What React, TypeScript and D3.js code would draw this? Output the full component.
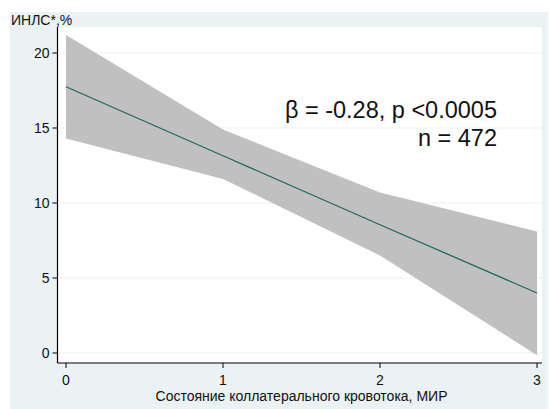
import React from "react";
import * as d3 from "d3";

const xValues = [0, 1, 2, 3];
const fitValues = [17.75, 13.15, 8.55, 4.0];
const upperCI = [21.2, 14.9, 10.7, 8.1];
const lowerCI = [14.3, 11.6, 6.5, -0.15];
const xTicks = [0, 1, 2, 3];
const yTicks = [0, 5, 10, 15, 20];
const yTickLabels = ["0", "5", "10", "15", "20"];
const yTitle = "ИНЛС*,%";
const xTitle = "Состояние коллатерального кровотока, МИР";
const annot1 = "β = -0.28, p <0.0005";
const annot2 = "n = 472";

export default function App() {
  const W = 549, H = 409;
  const plotL = 57.5, plotR = 542, plotT = 27, plotB = 363;
  const x = d3.scaleLinear().domain([0, 3]).range([66, 537]);
  const y = d3.scaleLinear().domain([0, 20]).range([353, 53]);
  const rows = xValues.map((v, i) => ({ x: v, f: fitValues[i], lo: lowerCI[i], hi: upperCI[i] }));
  const area = d3.area<any>().x(d => x(d.x)).y0(d => y(d.lo)).y1(d => y(d.hi));
  const line = d3.line<any>().x(d => x(d.x)).y(d => y(d.f));
  const font = "'Liberation Sans', Arial, sans-serif";
  return (
    <svg width={W} height={H} style={{ position: "absolute", left: 0, top: 0 }} fontFamily={font}>
      <rect x={0} y={0} width={W} height={H} fill="#ffffff" />
      <rect x={10} y={12} width={538} height={H - 12} fill="#eaf2f3" />
      <rect x={plotL} y={plotT} width={plotR - plotL} height={plotB - plotT} fill="#ffffff" />
      {yTicks.map(t => (
        <line key={"g" + t} x1={plotL} x2={plotR} y1={y(t)} y2={y(t)} stroke="#eaf2f3" strokeWidth={1.2} />
      ))}
      <path d={area(rows) || ""} fill="#c0c0c0" />
      <path d={line(rows) || ""} fill="none" stroke="#1a6b5c" strokeWidth={1.3} />
      <line x1={plotL} x2={plotL} y1={plotT} y2={plotB} stroke="#000" strokeWidth={1.2} />
      <line x1={plotL} x2={plotR} y1={plotB} y2={plotB} stroke="#000" strokeWidth={1.2} />
      {yTicks.map((t, i) => (
        <g key={"y" + t}>
          <line x1={plotL - 5} x2={plotL} y1={y(t)} y2={y(t)} stroke="#000" strokeWidth={1} />
          <text x={49.5} y={y(t)} dy="0.36em" textAnchor="end" fontSize={14} fill="#111">{yTickLabels[i]}</text>
        </g>
      ))}
      {xTicks.map(t => (
        <g key={"x" + t}>
          <line x1={x(t)} x2={x(t)} y1={plotB} y2={plotB + 5} stroke="#000" strokeWidth={1} />
          <text x={x(t)} y={384.5} textAnchor="middle" fontSize={14} fill="#111">{t}</text>
        </g>
      ))}
      <text x={11} y={24.5} fontSize={14} fill="#111">{yTitle}</text>
      <text x={(x(0) + x(3)) / 2} y={401} textAnchor="middle" fontSize={14} fill="#111">{xTitle}</text>
      <text x={497} y={118} textAnchor="end" fontSize={23.5} fill="#111">{annot1}</text>
      <text x={497} y={146} textAnchor="end" fontSize={23.5} fill="#111">{annot2}</text>
    </svg>
  );
}
